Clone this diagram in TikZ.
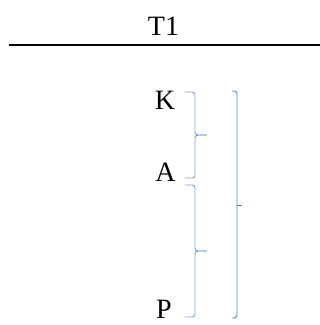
\documentclass[tikz,border=0pt]{standalone}
\usepackage{fontspec}
\setmainfont{Liberation Serif}
\definecolor{bracecol}{HTML}{7BA3D6}
\definecolor{bracketcol}{HTML}{4F81BD}
\begin{document}
\begin{tikzpicture}[x=1pt,y=-1pt,
  lbl/.style={inner sep=0pt,anchor=base,font=\fontsize{28}{32}\selectfont},
  bracestyle/.style={draw=bracecol,line width=0.9pt,rounded corners=3pt},
  bracketstyle/.style={draw=bracketcol,line width=0.9pt,rounded corners=3pt}]
  \useasboundingbox (0,0) rectangle (320,325);
  % title and rule
  \node[lbl] (t1) at (163.5,35) {T1};
  \draw[line width=1.3pt] (9,45) -- (320,45);
  % labels
  \node[lbl] (k) at (165,109) {K};
  \node[lbl] (a) at (165.5,181) {A};
  \node[lbl] (p) at (164,318) {P};
  % upper brace K--A
  \draw[bracestyle] (185,92) -- (195,92) -- (195,135) -- (207,135);
  \draw[bracestyle] (207,135) -- (195,135) -- (195,178) -- (185,178);
  % lower brace A--P
  \draw[bracestyle] (185,185) -- (195,185) -- (195,251) -- (207,251);
  \draw[bracestyle] (207,251) -- (195,251) -- (195,317) -- (185,317);
  % outer bracket
  \draw[bracketstyle] (232,91) -- (237,91) -- (237,318) -- (232,318);
  \draw[draw=bracketcol,line width=0.9pt] (237,205) -- (242,205);
\end{tikzpicture}
\end{document}
